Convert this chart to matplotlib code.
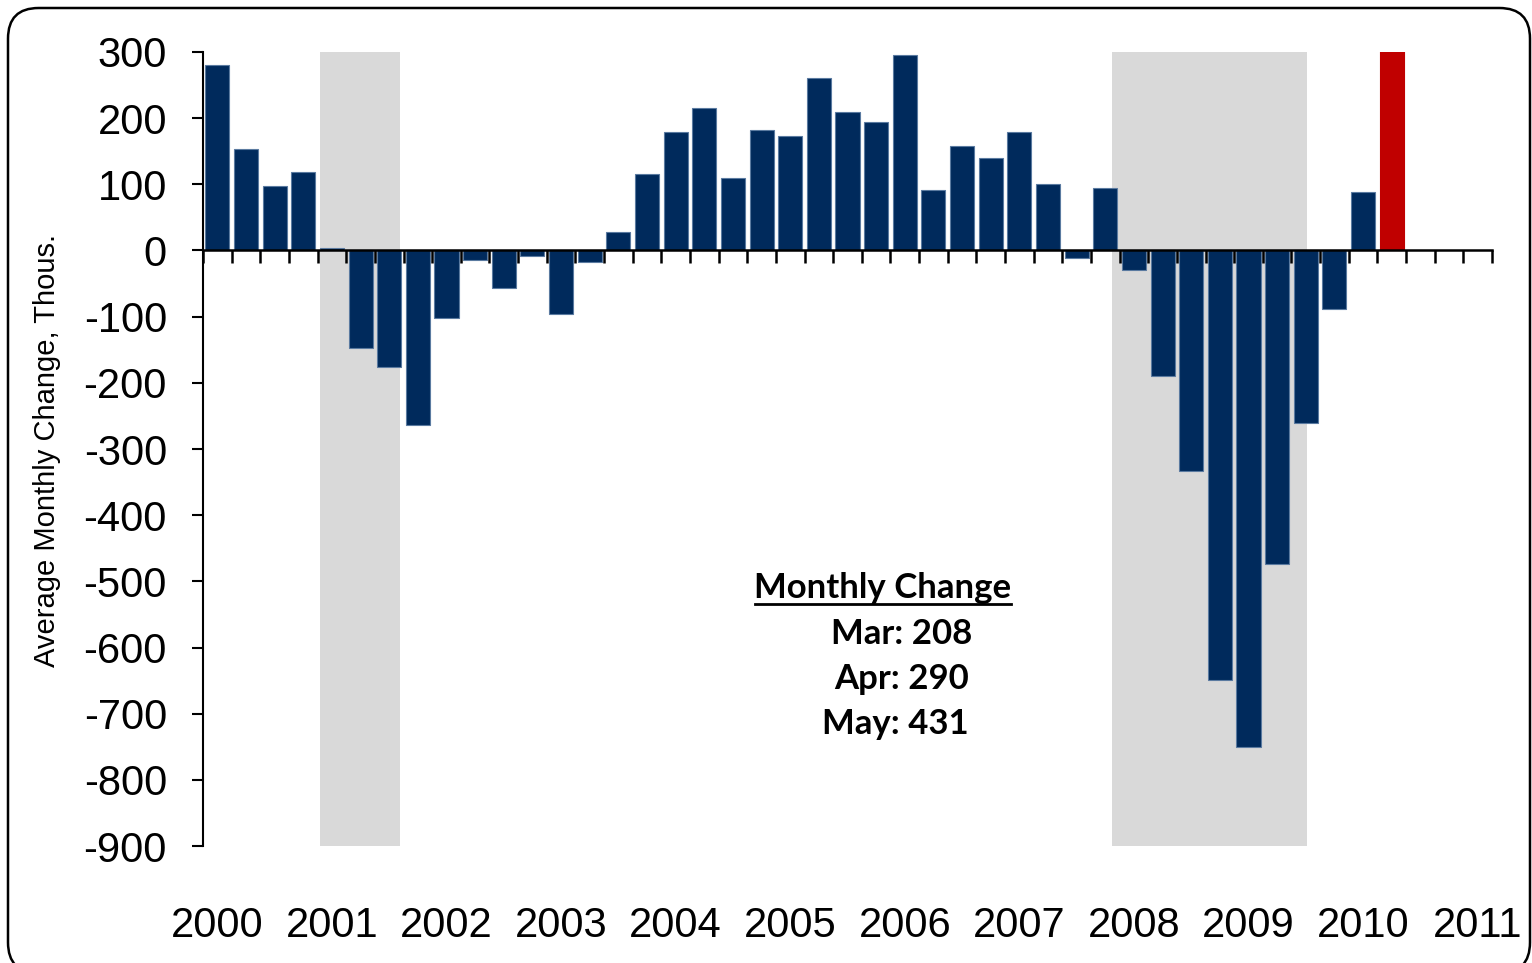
import matplotlib
matplotlib.use("Agg")
import matplotlib.pyplot as plt
from matplotlib.patches import FancyBboxPatch
import numpy as np

plt.rcParams['axes.unicode_minus'] = False

# Quarterly average monthly change in payrolls (thousands), 2000Q1 .. 2010Q2
quarters = [f"{y}Q{q}" for y in range(2000, 2011) for q in range(1, 5)][:42]
values = [281, 154, 97, 118,
          4, -148, -176, -263,
          -102, -14, -57, -8,
          -96, -17, 28, 115,
          179, 215, 109, 182,
          173, 261, 209, 194,
          296, 91, 158, 140,
          179, 100, -12, 94,
          -29, -190, -333, -649,
          -751, -474, -260, -89,
          88, 361]
n_categories = 45  # axis runs through 2011Q1
year_labels = [str(y) for y in range(2000, 2012)]
y_ticks = [300, 200, 100, 0, -100, -200, -300, -400, -500, -600, -700, -800, -900]
recessions = [(3.58, 6.38), (31.24, 38.05)]
note_title = "Monthly Change"
note_lines = ["Mar: 208", "Apr: 290", "May: 431"]

W, H = 1532, 963
fig = plt.figure(figsize=(W / 100, H / 100), dpi=100)
ax = fig.add_axes([203 / W, 1 - 846 / H, (1492 - 203) / W, (846 - 52) / H])

navy = "#002A5C"
red = "#C00000"

for a, b in recessions:
    ax.axvspan(a, b, ymin=0, ymax=1, color="#D9D9D9", zorder=0, lw=0)

x = np.arange(len(values))
colors = [navy] * (len(values) - 1) + [red]
edges = ["#5a7aa0"] * (len(values) - 1) + [red]
ax.bar(x, values, width=0.84, color=colors, edgecolor=edges, linewidth=0.8, zorder=2)

ax.set_xlim(-0.5, n_categories - 0.5)
ax.set_ylim(-900, 300)

for s in ["top", "right"]:
    ax.spines[s].set_visible(False)
ax.spines["bottom"].set_position(("data", 0))
ax.spines["bottom"].set_linewidth(1.8)
ax.spines["bottom"].set_zorder(3)
ax.spines["left"].set_linewidth(1.5)

ax.set_xticks(np.arange(-0.5, n_categories, 1.0))
ax.set_xticklabels([])
ax.tick_params(axis="x", direction="out", length=9, width=1.8)
ax.set_yticks(y_ticks)
ax.set_yticklabels([str(v) for v in y_ticks], fontsize=30, family="Liberation Sans")
ax.tick_params(axis="y", direction="out", length=8, width=1.5, pad=18)

trans = ax.get_xaxis_transform()
for i, lab in enumerate(year_labels):
    ax.text(i * 4, -0.101, lab, transform=trans, ha="center", va="center",
            fontsize=30, family="Liberation Sans", clip_on=False)

fig.text(47 / W, 1 - 450 / H, "Average Monthly Change, Thous.", rotation=90,
         ha="center", va="center", fontsize=21, family="Liberation Sans")

# annotation text
fig.text(883 / W, 1 - 588 / H, note_title, ha="center", va="center",
         fontsize=25, fontweight="bold", family="Lato")
fig.add_artist(plt.Line2D([755 / W, 1011 / W], [1 - 604 / H, 1 - 604 / H],
                          color="black", lw=2))
for (txt, cx, cy) in zip(note_lines, [902, 902, 895], [634, 679, 724]):
    fig.text(cx / W, 1 - cy / H, txt, ha="center", va="center",
             fontsize=25, fontweight="bold", family="Lato")

# rounded outer frame
frame = FancyBboxPatch((8 / W, -10 / H), (1530 - 8) / W, (963 - 8 + 10) / H,
                       boxstyle="round,pad=0,rounding_size=0.02",
                       transform=fig.transFigure, fill=False,
                       edgecolor="black", lw=1.8, mutation_aspect=W / H)
fig.add_artist(frame)

fig.savefig("out.png", dpi=100)
